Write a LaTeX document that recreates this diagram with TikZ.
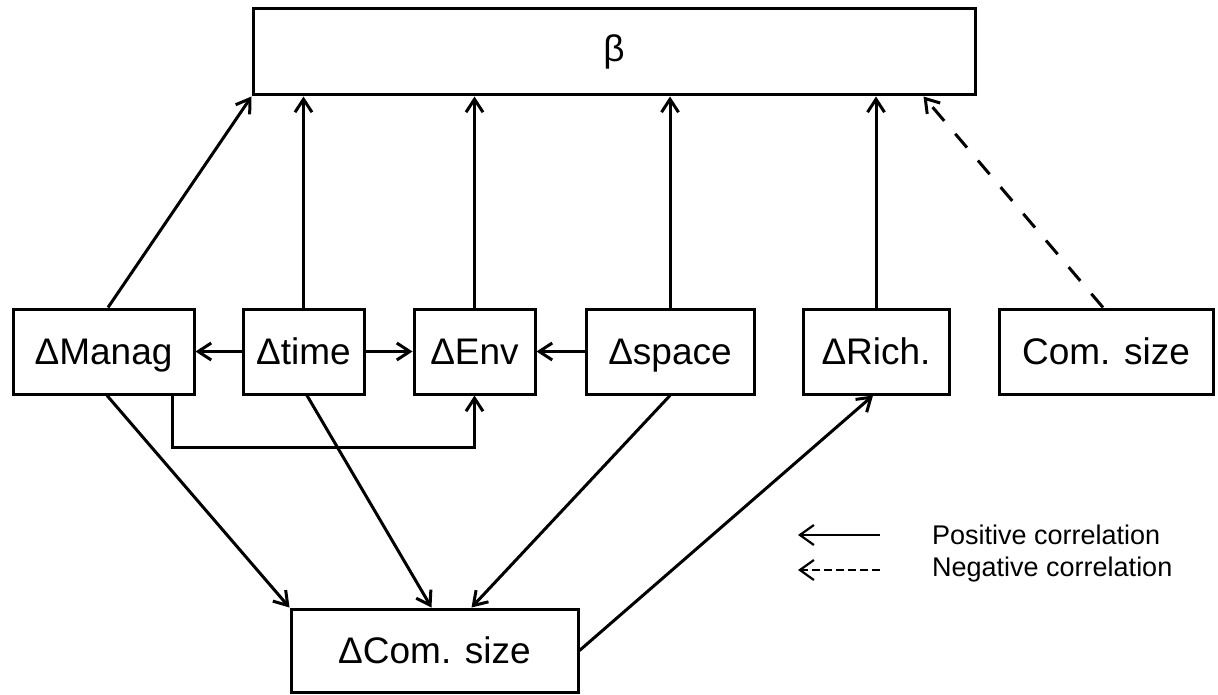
\documentclass[tikz,border=0pt]{standalone}
\usepackage{fontspec}
\setmainfont{Liberation Sans}
\usetikzlibrary{arrows.meta}
\begin{document}
\begin{tikzpicture}[x=1pt,y=-1pt,
  box/.style={draw, line width=3pt, inner sep=0pt, align=center,
    text height=26pt, text depth=0pt,
    font=\fontsize{37pt}{44pt}\selectfont},
  conn/.style={line width=3pt, -{Straight Barb[length=13pt,width=17pt,line width=3pt]}},
  negconn/.style={conn, dash pattern=on 18pt off 17pt},
  legtext/.style={anchor=west, inner sep=0pt, font=\fontsize{27pt}{32pt}\selectfont}
]
\useasboundingbox (0,0) rectangle (1218,695);
\fill[white] (0,0) rectangle (1218,695);

\node[box, minimum width=722pt, minimum height=86pt, text depth=6pt] (beta) at (614,52) {β};
\node[box, minimum width=181pt, minimum height=85pt] (manag) at (103.5,351.5) {ΔManag};
\node[box, minimum width=121pt, minimum height=85pt] (time) at (303.5,351.5) {Δtime};
\node[box, minimum width=121pt, minimum height=85pt] (env) at (474.5,351.5) {ΔEnv};
\node[box, minimum width=168pt, minimum height=85pt] (space) at (670,351.5) {Δspace};
\node[box, minimum width=146pt, minimum height=85pt] (rich) at (876,351.5) {ΔRich.};
\node[box, minimum width=214pt, minimum height=85pt] (com) at (1106,351.5) {Com. size};
\node[box, minimum width=287pt, minimum height=83pt, text depth=-4pt] (dcom) at (434.5,650.5) {ΔCom. size};

% to beta
\draw[conn] ([xshift=4.5pt]manag.north) -- (beta.south west);
\draw[conn] (time.north) -- (time.north |- beta.south);
\draw[conn] (env.north) -- (env.north |- beta.south);
\draw[conn] (space.north) -- (space.north |- beta.south);
\draw[conn] (rich.north) -- (rich.north |- beta.south);
\draw[negconn] ([xshift=-3pt]com.north) -- ([xshift=-53pt]beta.south east);

% horizontal
\draw[conn] (time.west) -- (manag.east);
\draw[conn] (time.east) -- (env.west);
\draw[conn] (space.west) -- (env.east);

% elbow
\draw[conn] ([xshift=68.5pt]manag.south) -- ++(0,52) -| (env.south);

% to dcom
\draw[conn] ([xshift=3.5pt]manag.south) -- (dcom.north west);
\draw[conn] ([xshift=3.5pt]time.south) -- ([xshift=142pt]dcom.north west);
\draw[conn] (space.south) -- ([xshift=182pt]dcom.north west);
\draw[conn] (dcom.east) -- ([xshift=-3pt]rich.south);

% legend
\coordinate (p1) at (880,535);
\coordinate (p2) at (798,535);
\coordinate (n1) at (880,570);
\coordinate (n2) at (798,570);
\draw[line width=2.2pt, -{Straight Barb[length=14pt,width=20pt,line width=2.2pt]}] (p1) -- (p2);
\draw[line width=2.2pt, dash pattern=on 8pt off 4pt, -{Straight Barb[length=14pt,width=20pt,line width=2.2pt]}] (n1) -- (n2);
\node[legtext] (lp) at (932,535) {Positive correlation};
\node[legtext] (ln) at (932,570) {Negative correlation};
\end{tikzpicture}
\end{document}
